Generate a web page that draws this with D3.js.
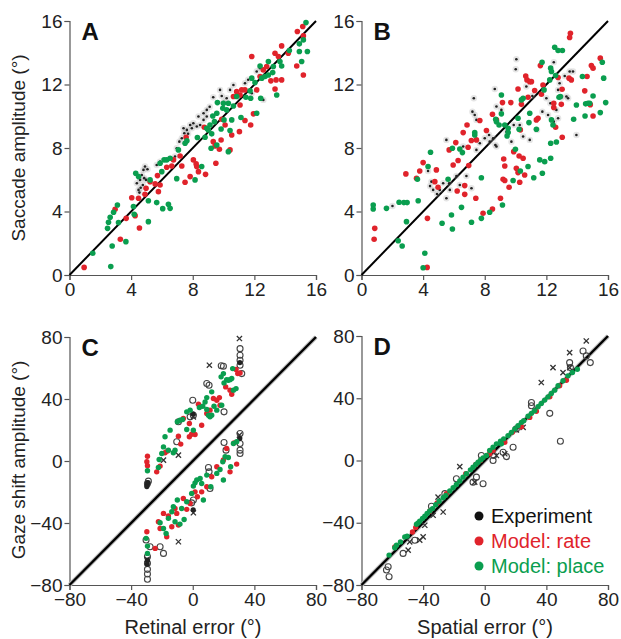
<!DOCTYPE html>
<html><head><meta charset="utf-8">
<script src="https://cdn.jsdelivr.net/npm/d3@7/dist/d3.min.js"></script>
<style>body{margin:0;background:#fff}svg{display:block;font-family:Arial,"Liberation Sans",sans-serif}</style>
</head><body><svg id="c" width="621" height="639"></svg>
<script>
// ---------- DATA ----------
const ticksAB = [0,4,8,12,16];
const ticksCD = [-80,-40,0,40,80];
const panelLetters = ["A","B","C","D"];
const yTitles = ["Saccade amplitude (°)","Gaze shift amplitude (°)"];
const xTitles = ["Retinal error (°)","Spatial error (°)"];
const legendLabels = ["Experiment","Model: rate","Model: place"];

const aRate = [[0.95,0.48],[3.3,2.25],[2.96,4.14],[3.68,3.57],[4.54,2.96],[4.04,4.87],[4.48,4.83],[4.26,3.74],[4.9,5.08],[4.97,5.46],[5.23,5.88],[5.56,5.74],[5.71,6.26],[5.77,5.25],[5.88,5.67],[6.31,6.79],[6.64,6.87],[6.75,7.25],[7.18,7.5],[7.29,6.87],[7.5,5.84],[7.57,8.68],[7.83,6.2],[8.04,7.25],[8.22,7.0],[8.37,6.51],[8.26,6.83],[8.83,6.34],[8.75,9.31],[9.33,8.4],[9.45,8.13],[9.5,7.04],[9.73,7.92],[9.84,8.5],[10.1,9.45],[9.88,9.81],[10.42,7.88],[10.53,8.82],[11.07,10.71],[11.03,9.03],[11.39,9.73],[11.18,11.66],[11.07,11.34],[11.76,9.45],[11.94,10.15],[11.83,13.76],[12.58,12.92],[12.8,13.13],[13.07,12.23],[13.41,12.29],[13.77,12.29],[13.34,11.72],[13.34,13.97],[13.56,13.76],[13.77,14.43],[14.2,13.97],[14.75,13.17],[14.79,15.34],[15.14,15.65],[15.18,15.06],[15.18,12.6],[11.39,11.66],[12.15,11.66],[12.37,12.5],[10.64,11.24],[10.85,11.55]];
const aPlace = [[1.51,1.37],[2.68,0.53],[2.77,1.83],[3.66,2.1],[2.47,2.94],[2.53,3.32],[2.64,3.63],[2.86,3.95],[3.11,4.41],[3.18,3.3],[4.15,4.31],[4.2,3.82],[5.12,3.36],[5.12,4.68],[5.66,4.56],[6.05,4.18],[6.42,4.45],[6.53,4.2],[6.96,6.07],[8.15,5.99],[8.58,6.83],[4.3,6.41],[4.48,6.2],[5.23,5.99],[5.99,6.51],[6.14,7.25],[6.31,7.25],[6.53,7.35],[5.88,7.04],[7.07,7.88],[7.5,8.3],[7.62,8.45],[8.3,8.66],[8.8,8.68],[8.91,9.24],[9.01,9.14],[9.23,8.89],[9.12,9.45],[9.3,10.02],[9.41,9.66],[9.56,10.19],[9.19,7.98],[9.56,8.19],[9.84,9.2],[10.03,9.77],[10.2,10.4],[10.31,7.77],[10.42,9.1],[10.53,9.77],[9.95,10.5],[9.6,10.86],[9.99,10.82],[10.31,10.82],[10.64,10.65],[10.85,11.24],[11.13,9.92],[11.45,11.2],[11.76,11.13],[11.72,11.6],[11.83,12.4],[12.04,12.12],[12.15,10.19],[12.41,11.13],[12.37,13.17],[12.48,12.4],[12.69,12.5],[12.91,12.6],[12.91,13.45],[13.19,12.75],[13.45,11.34],[13.23,13.13],[13.66,13.45],[13.77,13.17],[14.27,14.14],[14.92,14.56],[14.92,14.08],[15.07,13.45],[15.18,14.81],[15.35,15.9],[15.44,14.08]];
const aExp = [[4.37,5.78],[4.48,5.36],[4.58,5.99],[4.69,6.3],[4.8,6.62],[4.9,6.83],[5.06,6.66],[4.97,5.99],[4.76,5.67],[4.54,5.19],[5.66,6.93],[5.88,7.14],[6.96,7.98],[7.13,8.4],[7.29,8.61],[7.45,8.93],[7.62,9.14],[7.83,9.45],[8.04,9.56],[8.26,9.35],[7.94,9.24],[7.4,9.24],[8.37,9.98],[8.7,10.19],[8.91,10.4],[9.33,11.2],[9.77,11.66],[9.88,11.28],[10.2,11.13],[10.42,11.66],[10.64,11.97],[11.39,12.08],[11.83,11.45],[12.15,12.82],[12.37,13.03],[12.58,11.03],[8.7,9.77],[8.48,9.45],[8.91,9.98],[6.85,7.46],[4.62,5.5],[4.85,6.1],[7.7,8.9],[9.1,10.6],[10.0,10.9],[11.6,12.3]];

const bRate = [[0.86,2.94],[0.82,2.25],[2.88,6.37],[3.57,6.09],[3.78,6.55],[4.0,7.08],[4.28,3.57],[4.26,0.48],[4.86,6.62],[4.76,5.88],[4.97,5.53],[5.69,7.88],[5.95,6.93],[6.12,8.34],[6.21,5.29],[6.27,7.21],[6.6,8.97],[6.7,5.63],[6.7,5.08],[6.85,9.45],[6.92,8.05],[6.96,6.89],[7.13,8.47],[7.42,4.83],[7.46,8.51],[7.68,9.73],[7.89,3.89],[8.11,9.1],[8.5,4.16],[8.5,10.13],[8.76,9.77],[9.02,4.83],[9.19,6.03],[9.23,7.31],[9.3,6.87],[9.15,10.86],[9.3,5.95],[9.58,5.53],[9.69,10.86],[9.88,7.77],[10.05,6.72],[10.16,6.45],[10.23,7.5],[10.27,5.84],[10.16,11.72],[10.38,10.75],[10.31,9.14],[10.49,7.35],[10.59,6.3],[10.66,12.54],[10.74,12.29],[10.92,12.18],[11.03,12.18],[10.81,11.2],[11.24,11.62],[11.35,9.77],[11.46,9.87],[11.61,13.19],[11.68,11.39],[11.78,11.97],[12.48,10.82],[12.48,10.55],[12.6,9.31],[12.76,12.44],[13.02,11.7],[12.97,10.75],[13.03,8.68],[13.47,12.4],[13.51,14.96],[13.56,15.23],[13.62,12.29],[14.49,11.6],[14.64,12.5],[14.92,13.19],[15.03,13.03],[15.03,10.02],[15.5,13.66],[14.85,10.73]];
const bPlace = [[0.76,4.41],[0.76,4.16],[1.62,4.2],[2.44,4.58],[2.75,4.56],[2.96,4.56],[2.38,2.16],[2.64,1.83],[2.92,3.36],[3.63,6.03],[3.68,4.68],[4.0,0.46],[4.11,1.37],[4.32,6.83],[4.48,7.73],[5.23,3.26],[5.62,6.03],[5.84,3.78],[5.9,2.9],[5.9,7.98],[6.38,7.94],[6.49,4.26],[6.55,7.71],[7.14,3.32],[7.35,8.97],[7.35,8.82],[7.78,6.13],[7.78,3.57],[8.32,3.95],[8.71,9.81],[8.76,9.66],[8.93,9.45],[9.08,11.34],[9.08,10.15],[9.15,4.41],[9.3,9.45],[9.45,8.76],[9.52,8.97],[9.52,9.24],[9.84,5.95],[9.99,7.92],[10.16,9.87],[10.23,9.18],[10.31,6.55],[10.38,11.03],[10.49,11.13],[10.81,6.83],[10.87,9.6],[10.92,10.19],[11.18,6.13],[11.35,9.18],[11.57,7.25],[11.72,13.4],[11.74,6.41],[11.85,11.66],[11.89,7.14],[12.22,12.29],[12.28,13.03],[12.28,7.35],[12.28,8.3],[12.33,12.82],[12.33,9.77],[12.43,9.45],[12.54,14.35],[12.6,12.56],[12.65,8.38],[12.76,14.14],[12.82,11.2],[12.91,11.24],[13.04,14.14],[13.95,10.71],[13.77,9.81],[14.34,12.5],[14.51,10.02],[14.55,10.78],[14.7,10.82],[14.81,10.82],[15.03,11.28],[15.5,10.23],[15.63,13.4],[15.72,12.4],[15.85,10.86]];
const bExp = [[2.01,4.35],[4.32,6.55],[4.54,5.88],[4.65,5.36],[5.08,5.36],[5.3,5.78],[5.51,8.51],[5.51,4.83],[5.69,5.78],[5.73,5.36],[6.38,5.67],[6.16,6.24],[6.6,8.09],[6.81,6.24],[7.14,5.46],[7.2,10.29],[7.29,11.13],[7.35,10.08],[7.46,9.77],[7.46,7.88],[7.68,8.3],[8.0,8.61],[8.28,8.82],[8.32,8.4],[8.54,8.61],[8.65,11.72],[8.69,8.19],[8.76,8.09],[8.76,10.61],[9.08,10.4],[9.41,9.03],[9.73,8.4],[9.88,9.45],[10.01,12.96],[10.05,13.59],[10.27,9.45],[10.49,8.72],[10.7,11.87],[10.92,8.51],[11.09,11.28],[11.39,9.14],[11.74,10.29],[12.0,11.13],[12.11,10.08],[12.26,10.82],[12.48,13.4],[12.65,10.4],[12.76,11.66],[12.86,12.08],[12.97,11.18],[13.19,12.54],[13.3,11.24],[13.41,11.13],[13.51,12.82],[13.73,12.82],[13.95,8.82],[12.48,9.66],[12.76,9.87],[4.45,5.6],[4.9,5.1]];

const cRate = [[-29.4,3.1],[-29.8,-0.5],[-29.4,-3.1],[-23.4,-7.0],[-21.2,-3.3],[-18.0,5.3],[-16.4,6.4],[-9.3,16.0],[-7.8,10.9],[-6.1,27.4],[-2.2,15.6],[-0.7,17.3],[1.5,17.1],[5.8,23.1],[3.7,36.6],[9.1,30.6],[11.2,32.8],[13.4,40.3],[15.6,39.2],[17.3,40.9],[17.7,36.0],[21.4,47.8],[24.2,45.7],[25.3,43.1],[28.1,59.0],[29.2,56.4],[30.7,56.8],[-2.2,24.2],
  [-29.8,-45.6],[-24.4,-56.4],[-22.3,-39.2],[-19.0,-33.8],[-16.9,-48.9],[-15.8,-35.5],[-13.6,-42.4],[-11.5,-30.6],[-10.4,-33.8],[-9.3,-41.3],[-6.1,-24.2],[-3.9,-31.2],[-1.7,-27.4],[1.5,-19.9],[3.0,-23.1],[5.8,-19.9],[9.1,-16.6],[12.3,-10.2],[15.6,-3.7],[19.9,0.6],[24.2,-7.0],[28.5,-2.0],[26.8,11.7],[22.0,8.1],[-21.2,-43.5]];
const cPlace = [[-29.4,-6.3],[-22.3,-4.2],[-21.8,1.0],[-20.1,4.8],[-19.0,9.1],[-18.0,15.6],[-15.8,7.0],[-14.7,19.9],[-12.6,5.3],[-11.5,7.0],[-10.0,25.3],[-8.3,26.3],[-6.6,26.8],[-3.9,20.3],[-3.9,31.7],[-1.7,32.8],[0.4,19.9],[4.3,34.5],[6.5,35.3],[8.0,38.1],[9.1,33.2],[10.2,29.5],[11.2,28.5],[12.3,29.5],[13.8,35.3],[15.6,32.8],[18.8,36.0],[18.4,54.3],[19.9,56.4],[20.3,50.4],[22.0,52.5],[23.1,52.1],[24.2,52.5],[25.3,53.2],[25.9,59.6],[26.4,45.7],[28.1,46.7],[12.3,44.6],[9.1,40.9],
  [-30.3,-49.9],[-29.4,-54.9],[-29.4,-59.6],[-21.2,-39.8],[-19.0,-43.5],[-17.3,-46.7],[-15.8,-37.0],[-13.6,-32.7],[-12.6,-29.5],[-11.5,-39.2],[-10.0,-25.2],[-8.3,-40.7],[-7.2,-30.6],[-5.6,-37.7],[-3.9,-26.3],[-0.7,-20.9],[0.4,-16.2],[1.5,-14.1],[2.6,-12.3],[4.8,-11.3],[5.8,-14.5],[6.9,-25.2],[9.1,-9.1],[11.7,-16.6],[15.6,-8.0],[17.7,-5.5],[19.5,-0.5],[21.0,2.7],[23.1,2.3],[24.6,-3.7],[26.4,11.3],[28.5,12.4],[19.9,-12.3]];
const cExpO = [[-29.4,-14.5],[-28.8,-13.0],[-10.4,12.4],[-9.3,25.3],[0.0,39.2],[0.4,29.5],[9.1,50.0],[10.6,48.9],[20.3,31.7],[19.9,61.1],[30.7,72.5],[30.7,68.2],[30.7,65.0],[30.7,61.8],[31.8,56.4],[-1.7,28.5],[-30.3,-51.0],[-29.4,-61.7],[-29.4,-66.0],[-29.4,-69.9],[-29.4,-72.9],[-29.4,-76.3],[-21.2,-55.3],[-19.0,-59.6],[-27.7,-55.3],[-0.7,-27.0],[0.4,-25.2],[10.2,-4.2],[11.2,-17.7],[10.6,-7.0],[20.3,11.9],[21.6,7.0],[30.7,17.7],[30.7,11.3],[30.7,7.0],[30.7,4.8],[18.5,61.5]];
const cExpX = [[-9.3,3.8],[10.8,61.8],[30.3,79.0],[-19.0,0.6],[-9.3,-52.1],[0.4,-33.4],[30.3,16.7],[0.4,28.5],[-29.6,-63.5]];
const cExpDot = [[-29.6,-15.5],[-29.2,-14.0],[-29.8,-16.5],[-29.4,-64.0],[-29.6,-66.5],[0.3,-31.5],[0.2,30.5],[30.5,14.5],[30.6,63.5]];

const dRate = [[-58.4,-55.5],[-46.9,-45.9],[-44.8,-43.1],[-35.7,-32.6],[-30.9,-27.3],[-24.9,-21.3],[-12.3,-8.5],[-5.8,-2.6],[-2.8,0.0],[3.2,4.3],[5.4,6.4],[13.0,11.7],[17.9,18.1],[23.8,21.7],[29.2,27.7],[33.5,31.6],[42.2,40.9],[48.6,48.0],[53.0,51.6]];
const dPlace = [[-62.1,-60.8],[-58.4,-56.1],[-57.3,-54.4],[-54.7,-52.3],[-51.9,-49.1],[-50.4,-48.6],[-44.3,-41.0],[-43.2,-40.1],[-42.2,-39.0],[-40.4,-37.3],[-38.9,-35.8],[-37.4,-34.1],[-35.7,-32.4],[-33.9,-30.9],[-31.8,-28.4],[-29.6,-26.2],[-27.0,-23.9],[-25.3,-22.4],[-22.7,-19.6],[-20.5,-17.5],[-18.4,-15.4],[-16.2,-13.2],[-14.1,-10.7],[-11.9,-8.5],[-9.3,-6.0],[-7.6,-4.3],[-5.8,-2.6],[-4.3,-1.1],[-2.6,0.4],[-1.1,1.7],[1.1,3.2],[3.2,6.4],[5.4,8.5],[7.6,10.7],[10.2,12.4],[10.8,10.7],[12.3,13.9],[15.1,16.0],[17.3,18.1],[19.5,20.3],[21.6,22.4],[23.8,24.5],[25.3,25.6],[28.1,28.4],[30.3,30.3],[32.4,32.0],[34.6,34.5],[36.7,36.7],[38.9,38.8],[41.1,40.9],[43.2,43.1],[45.4,45.2],[47.6,48.0],[50.8,51.2],[54.0,54.4],[56.9,56.5],[60.1,58.6]];
const dExpO = [[-62.1,-74.7],[-63.8,-70.4],[-62.7,-68.3],[-53.0,-59.7],[-45.4,-51.2],[-34.6,-29.4],[-25.9,-21.3],[-18.4,-11.7],[-7.6,-13.9],[-1.1,-14.9],[-5.4,-10.7],[5.4,0.0],[5.8,3.2],[11.9,5.3],[18.4,8.5],[14.1,2.5],[20.5,20.3],[30.3,37.3],[42.2,30.3],[49.1,12.4],[55.1,62.9],[55.6,59.7],[63.8,70.4],[65.9,67.2],[68.5,62.9],[30.3,35.2],[-2.2,3.2]];
const dExpX = [[-49.7,-57.6],[-42.2,-51.2],[-38.9,-41.6],[-30.3,-23.5],[-27.0,-33.1],[-16.2,-3.9],[-6.5,-13.9],[7.6,3.2],[13.0,4.3],[20.5,19.6],[36.7,50.1],[44.3,59.7],[50.8,56.5],[55.1,59.7],[65.9,76.8],[55.1,69.3],[24.9,21.3],[-33.5,-35.2],[-48.7,-52.3],[-40.0,-49.1]];

// ---------- STYLE ----------
const RED = "#e0232b", GREEN = "#0a9e4f", BLACK = "#111";
const svg = d3.select("#c");

const panels = [
  {L:69.5, R:608-292, T:21, B:275, dom:[0,16], ticks:ticksAB, letter:0, exp:aExp, rate:aRate, place:aPlace, type:"ab"},
  {L:361.5, R:608, T:21, B:275, dom:[0,16], ticks:ticksAB, letter:1, exp:bExp, rate:bRate, place:bPlace, type:"ab"},
  {L:69.5, R:316, T:337, B:585, dom:[-80,80], ticks:ticksCD, letter:2, expO:cExpO, expX:cExpX, expDot:cExpDot, rate:cRate, place:cPlace, type:"cd"},
  {L:361.5, R:608, T:336, B:585, dom:[-80,80], ticks:ticksCD, letter:3, expO:dExpO, expX:dExpX, expDot:[], rate:dRate, place:dPlace, type:"cd"}
];

panels.forEach(p => {
  const x = d3.scaleLinear().domain(p.dom).range([p.L, p.R]);
  const y = d3.scaleLinear().domain(p.dom).range([p.B, p.T]);
  const g = svg.append("g");

  const xa = g.append("g").attr("transform",`translate(0,${p.B})`)
    .call(d3.axisBottom(x).tickValues(p.ticks).tickSize(5).tickPadding(3));
  const ya = g.append("g").attr("transform",`translate(${p.L},0)`)
    .call(d3.axisLeft(y).tickValues(p.ticks).tickSize(5).tickPadding(2));
  [xa,ya].forEach(a=>{
    a.select(".domain").attr("stroke","#555").attr("stroke-width",1.2);
    a.selectAll(".tick line").attr("stroke","#555").attr("stroke-width",1.2);
    a.selectAll(".tick text").attr("font-size",19).attr("fill","#222").attr("font-family","Arial, 'Liberation Sans', sans-serif");
  });

  // diagonal identity line
  if (p.type==="cd") {
    g.append("line").attr("x1",x(p.dom[0])).attr("y1",y(p.dom[0])).attr("x2",x(p.dom[1])).attr("y2",y(p.dom[1]))
      .attr("stroke","#bbb").attr("stroke-width",4.5);
  }
  g.append("line").attr("x1",x(p.dom[0])).attr("y1",y(p.dom[0])).attr("x2",x(p.dom[1])).attr("y2",y(p.dom[1]))
    .attr("stroke","#000").attr("stroke-width",p.type==="cd"?2.4:2);

  if (p.type==="ab") {
    g.selectAll(".eh").data(p.exp).join("circle").attr("cx",d=>x(d[0])).attr("cy",d=>y(d[1])).attr("r",3.2).attr("fill","#999").attr("opacity",0.25);
    g.selectAll(".ed").data(p.exp).join("circle").attr("cx",d=>x(d[0])).attr("cy",d=>y(d[1])).attr("r",1.3).attr("fill","#222");
  } else {
    g.selectAll(".eo").data(p.expO).join("circle").attr("cx",d=>x(d[0])).attr("cy",d=>y(d[1])).attr("r",3).attr("fill","none").attr("stroke","#444").attr("stroke-width",1.1);
    const s = 2.6;
    g.selectAll(".ex").data(p.expX).join("path")
      .attr("d",d=>{const cx=x(d[0]),cy=y(d[1]);return `M${cx-s},${cy-s}L${cx+s},${cy+s}M${cx-s},${cy+s}L${cx+s},${cy-s}`;})
      .attr("stroke","#333").attr("stroke-width",1.3);
    g.selectAll(".edot").data(p.expDot).join("circle").attr("cx",d=>x(d[0])).attr("cy",d=>y(d[1])).attr("r",2.6).attr("fill","#222");
  }
  const r = p.type==="ab" ? 2.8 : 2.7;
  g.selectAll(".rr").data(p.rate).join("circle").attr("cx",d=>x(d[0])).attr("cy",d=>y(d[1])).attr("r",r).attr("fill",RED);
  g.selectAll(".pp").data(p.place).join("circle").attr("cx",d=>x(d[0])).attr("cy",d=>y(d[1])).attr("r",r).attr("fill",GREEN);

  g.append("text").attr("x",p.L+12).attr("y",p.T+19).text(panelLetters[p.letter])
    .attr("font-size",24).attr("font-weight","bold").attr("fill","#111");
});

// axis titles
svg.append("text").attr("transform","translate(25,148) rotate(-90)").attr("text-anchor","middle")
  .attr("font-size",19).attr("fill","#222").text(yTitles[0]);
svg.append("text").attr("transform","translate(25,460) rotate(-90)").attr("text-anchor","middle")
  .attr("font-size",19).attr("fill","#222").text(yTitles[1]);
svg.append("text").attr("x",193).attr("y",634).attr("text-anchor","middle").attr("font-size",20).attr("fill","#222").text(xTitles[0]);
svg.append("text").attr("x",485).attr("y",634).attr("text-anchor","middle").attr("font-size",20).attr("fill","#222").text(xTitles[1]);

// legend
const legColors = [BLACK, RED, GREEN];
legendLabels.forEach((t,i)=>{
  const yy = 516 + i*25;
  svg.append("circle").attr("cx",479).attr("cy",yy).attr("r",4.5).attr("fill",legColors[i]);
  svg.append("text").attr("x",491).attr("y",yy+7).attr("font-size",20).attr("fill",i===0?"#111":legColors[i]).text(t);
});
</script></body></html>
